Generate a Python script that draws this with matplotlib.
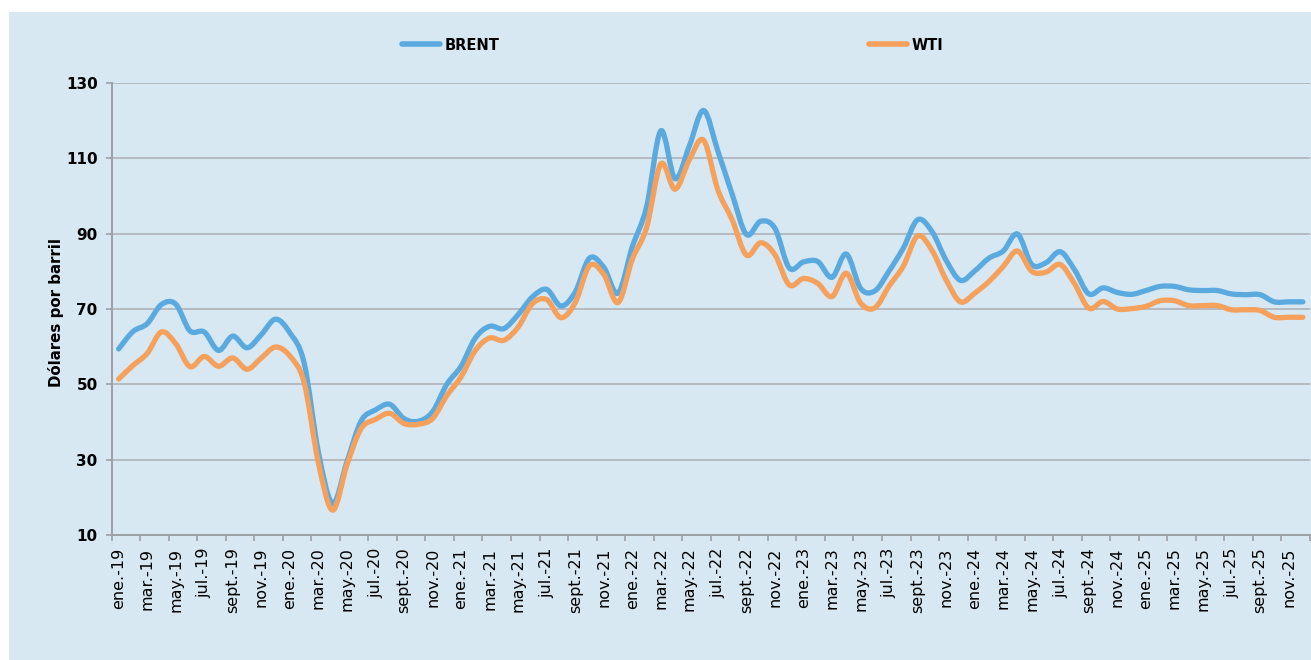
import matplotlib
matplotlib.use("Agg")
import matplotlib.pyplot as plt
from matplotlib.path import Path
from matplotlib.patches import PathPatch, Rectangle
from matplotlib.lines import Line2D
import numpy as np

# precios mensuales (USD/barril), ene-2019 .. dic-2025
BRENT = [
    59.4, 64.0, 66.1, 71.2, 71.3, 64.2, 63.9, 59.0, 62.8, 59.7, 63.2, 67.3,
    63.7, 55.7, 32.0, 18.4, 29.4, 40.3, 43.2, 44.7, 40.9, 40.2, 42.7, 50.0,
    54.8, 62.3, 65.4, 64.8, 68.5, 73.2, 75.2, 70.8, 74.5, 83.5, 81.1, 74.2,
    86.5, 97.1, 117.3, 104.6, 113.3, 122.7, 111.9, 100.5, 89.8, 93.3, 91.4, 80.9,
    82.5, 82.6, 78.4, 84.6, 75.5, 74.8, 80.1, 86.2, 93.7, 90.6, 82.9, 77.6,
    80.1, 83.5, 85.4, 89.9, 81.8, 82.3, 85.2, 80.4, 74.0, 75.6, 74.4, 73.9,
    74.9, 76.0, 76.0, 75.1, 74.9, 74.9, 74.0, 73.8, 73.8, 71.9, 71.9, 71.9,
]
WTI = [
    51.4, 55.0, 58.2, 63.9, 60.8, 54.7, 57.4, 54.8, 57.0, 54.0, 57.0, 59.9,
    57.5, 50.5, 29.2, 16.6, 28.6, 38.3, 40.7, 42.3, 39.6, 39.4, 40.9, 47.0,
    52.0, 59.0, 62.3, 61.7, 65.2, 71.4, 72.5, 67.7, 71.7, 81.5, 79.2, 71.7,
    83.2, 91.6, 108.5, 101.8, 109.6, 114.8, 101.6, 93.7, 84.3, 87.6, 84.4, 76.4,
    78.1, 76.8, 73.3, 79.5, 71.6, 70.3, 76.1, 81.4, 89.4, 85.6, 77.7, 71.9,
    74.2, 77.3, 81.3, 85.4, 80.0, 79.8, 81.8, 76.7, 70.2, 72.0, 70.0, 70.1,
    70.7, 72.2, 72.2, 70.9, 70.9, 70.9, 69.8, 69.8, 69.6, 67.8, 67.8, 67.8,
]
MESES = ["ene.", "feb.", "mar.", "abr.", "may.", "jun.",
         "jul.", "ago.", "sept.", "oct.", "nov.", "dic."]
ANIOS = ["19", "20", "21", "22", "23", "24", "25"]
ETIQUETAS = [f"{m}-{a}" for a in ANIOS for m in MESES]
Y_TICKS = [10, 30, 50, 70, 90, 110, 130]

PANEL = "#d7e8f3"
BLUE = "#5aaae0"
ORANGE = "#f5a05b"
GRID = "#b5babf"
AXIS = "#9aa0a5"

W, H = 1311, 660


def smooth_path(x, y):
    """Curva suavizada tipo Excel (Bezier por tramos) en coordenadas de datos."""
    x = np.asarray(x, float)
    y = np.asarray(y, float)
    n = len(x)
    verts = [(x[0], y[0])]
    codes = [Path.MOVETO]
    for i in range(n - 1):
        i0 = max(i - 1, 0)
        i3 = min(i + 2, n - 1)
        c1 = (x[i] + (x[i + 1] - x[i0]) / 6, y[i] + (y[i + 1] - y[i0]) / 6)
        c2 = (x[i + 1] - (x[i3] - x[i]) / 6, y[i + 1] - (y[i3] - y[i]) / 6)
        verts += [c1, c2, (x[i + 1], y[i + 1])]
        codes += [Path.CURVE4] * 3
    return Path(verts, codes)


fig = plt.figure(figsize=(W / 100, H / 100), dpi=100)
fig.patch.set_facecolor("white")
fig.patches.append(Rectangle((9 / W, 0), 1, 1 - 12 / H, transform=fig.transFigure,
                             facecolor=PANEL, edgecolor="none", zorder=-5))

ax = fig.add_axes([111.5 / W, 1 - 535 / H, (1310 - 111.5) / W, (535 - 83) / H])
ax.set_facecolor("none")
ax.set_zorder(2)

x = np.arange(len(ETIQUETAS))
for serie, color in [(BRENT, BLUE), (WTI, ORANGE)]:
    ax.add_patch(PathPatch(smooth_path(x, serie), facecolor="none", edgecolor=color,
                           lw=3.8, capstyle="round", joinstyle="round", zorder=3))

ax.set_xlim(-0.5, len(ETIQUETAS) - 0.5)
ax.set_ylim(10, 130)

ax.set_yticks(Y_TICKS)
ax.set_yticklabels([str(v) for v in Y_TICKS], fontweight="bold", fontsize=11)
ax.yaxis.grid(True, color=GRID, lw=1.4)
ax.set_axisbelow(True)

ax.set_xticks(x[::2])
ax.set_xticklabels(ETIQUETAS[::2], rotation=90, fontsize=11.5, fontweight="medium")
ax.set_xticks(np.arange(-0.5, len(ETIQUETAS), 2), minor=True)
ax.tick_params(axis="x", which="major", length=0, pad=9)
ax.tick_params(axis="x", which="minor", length=4, color=AXIS, width=1.2)
ax.tick_params(axis="y", length=4, color=AXIS, width=1.2, pad=6)

for s in ["top", "right"]:
    ax.spines[s].set_visible(False)
for s in ["left", "bottom"]:
    ax.spines[s].set_color(AXIS)
    ax.spines[s].set_linewidth(1.4)

ax.set_ylabel("Dólares por barril", fontweight="bold", fontsize=10.8)
ax.yaxis.set_label_coords(-0.04, 0.492)

h_brent = Line2D([], [], color=BLUE, lw=4, solid_capstyle="round")
h_wti = Line2D([], [], color=ORANGE, lw=4, solid_capstyle="round")
fig.legend([h_brent], ["BRENT"], loc="center left", bbox_to_anchor=(402 / W, 1 - 45 / H),
           frameon=False, handlelength=2.6, handletextpad=0.3, borderpad=0,
           borderaxespad=0, prop={"weight": "bold", "size": 10.5})
fig.legend([h_wti], ["WTI"], loc="center left", bbox_to_anchor=(869 / W, 1 - 45 / H),
           frameon=False, handlelength=2.6, handletextpad=0.3, borderpad=0,
           borderaxespad=0, prop={"weight": "bold", "size": 10.5})

fig.savefig("out.png", dpi=100, facecolor="white")
